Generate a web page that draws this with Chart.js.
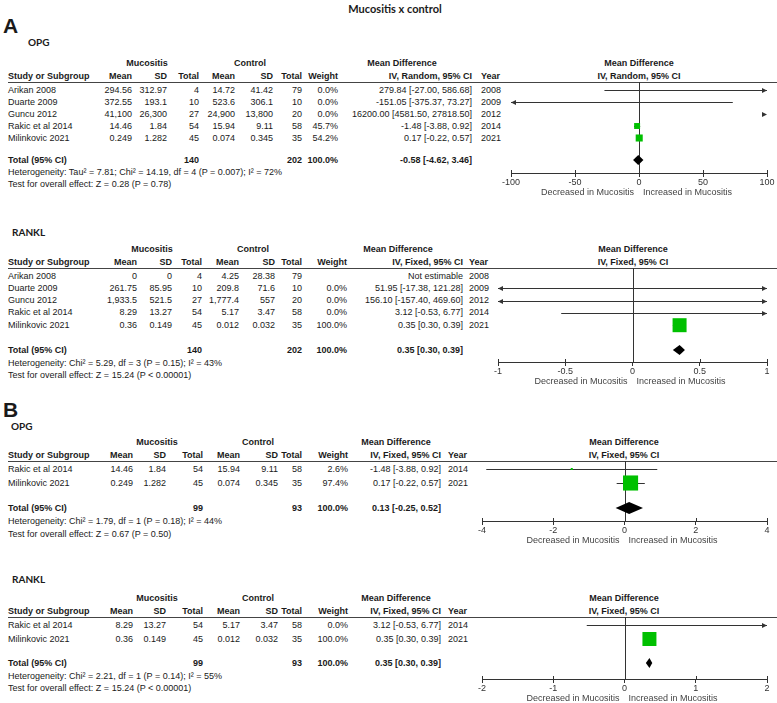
<!DOCTYPE html>
<html><head><meta charset="utf-8">
<script src="https://cdn.jsdelivr.net/npm/chart.js@4.4.0/dist/chart.umd.min.js"></script>
<style>
html,body{margin:0;padding:0;background:#fff;overflow:hidden;width:777px;height:703px;}
#root{position:relative;width:777px;height:703px;overflow:hidden;font-family:"Liberation Sans",Arial,sans-serif;color:#1a1a1a;}
.t{position:absolute;white-space:nowrap;}
.b{font-weight:bold;}
canvas{position:absolute;}
.hl{position:absolute;height:1px;background:#444;}
</style></head><body><div id="root"></div>
<script>
// ---------- Panel A : OPG ----------
const aOpgStudies = ["Arikan 2008","Duarte 2009","Guncu 2012","Rakic et al 2014","Milinkovic 2021"];
const aOpgMucMean = ["294.56","372.55","41,100","14.46","0.249"];
const aOpgMucSD   = ["312.97","193.1","26,300","1.84","1.282"];
const aOpgMucN    = [4,10,27,54,45];
const aOpgCtlMean = ["14.72","523.6","24,900","15.94","0.074"];
const aOpgCtlSD   = ["41.42","306.1","13,800","9.11","0.345"];
const aOpgCtlN    = [79,10,20,58,35];
const aOpgWeight  = [0.0,0.0,0.0,45.7,54.2];
const aOpgMD      = [279.84,-151.05,16200.00,-1.48,0.17];
const aOpgLo      = [-27.00,-375.37,4581.50,-3.88,-0.22];
const aOpgHi      = [586.68,73.27,27818.50,0.92,0.57];
const aOpgYear    = [2008,2009,2012,2014,2021];
const aOpgTotal   = [-0.58,-4.62,3.46];
const aOpgTotalN  = [140,202];
const aOpgHet     = "Heterogeneity: Tau\u00b2 = 7.81; Chi\u00b2 = 14.19, df = 4 (P = 0.007); I\u00b2 = 72%";
const aOpgTest    = "Test for overall effect: Z = 0.28 (P = 0.78)";
const aOpgTicks   = [-100,-50,0,50,100];

// ---------- Panel A : RANKL ----------
const aRanklStudies = ["Arikan 2008","Duarte 2009","Guncu 2012","Rakic et al 2014","Milinkovic 2021"];
const aRanklMucMean = ["0","261.75","1,933.5","8.29","0.36"];
const aRanklMucSD   = ["0","85.95","521.5","13.27","0.149"];
const aRanklMucN    = [4,10,27,54,45];
const aRanklCtlMean = ["4.25","209.8","1,777.4","5.17","0.012"];
const aRanklCtlSD   = ["28.38","71.6","557","3.47","0.032"];
const aRanklCtlN    = [79,10,20,58,35];
const aRanklWeight  = [null,0.0,0.0,0.0,100.0];
const aRanklMD      = [null,51.95,156.10,3.12,0.35];
const aRanklLo      = [null,-17.38,-157.40,-0.53,0.30];
const aRanklHi      = [null,121.28,469.60,6.77,0.39];
const aRanklYear    = [2008,2009,2012,2014,2021];
const aRanklTotal   = [0.35,0.30,0.39];
const aRanklTotalN  = [140,202];
const aRanklHet     = "Heterogeneity: Chi\u00b2 = 5.29, df = 3 (P = 0.15); I\u00b2 = 43%";
const aRanklTest    = "Test for overall effect: Z = 15.24 (P < 0.00001)";
const aRanklTicks   = [-1,-0.5,0,0.5,1];

// ---------- Panel B : OPG ----------
const bOpgStudies = ["Rakic et al 2014","Milinkovic 2021"];
const bOpgMucMean = ["14.46","0.249"];
const bOpgMucSD   = ["1.84","1.282"];
const bOpgMucN    = [54,45];
const bOpgCtlMean = ["15.94","0.074"];
const bOpgCtlSD   = ["9.11","0.345"];
const bOpgCtlN    = [58,35];
const bOpgWeight  = [2.6,97.4];
const bOpgMD      = [-1.48,0.17];
const bOpgLo      = [-3.88,-0.22];
const bOpgHi      = [0.92,0.57];
const bOpgYear    = [2014,2021];
const bOpgTotal   = [0.13,-0.25,0.52];
const bOpgTotalN  = [99,93];
const bOpgHet     = "Heterogeneity: Chi\u00b2 = 1.79, df = 1 (P = 0.18); I\u00b2 = 44%";
const bOpgTest    = "Test for overall effect: Z = 0.67 (P = 0.50)";
const bOpgTicks   = [-4,-2,0,2,4];

// ---------- Panel B : RANKL ----------
const bRanklStudies = ["Rakic et al 2014","Milinkovic 2021"];
const bRanklMucMean = ["8.29","0.36"];
const bRanklMucSD   = ["13.27","0.149"];
const bRanklMucN    = [54,45];
const bRanklCtlMean = ["5.17","0.012"];
const bRanklCtlSD   = ["3.47","0.032"];
const bRanklCtlN    = [58,35];
const bRanklWeight  = [0.0,100.0];
const bRanklMD      = [3.12,0.35];
const bRanklLo      = [-0.53,0.30];
const bRanklHi      = [6.77,0.39];
const bRanklYear    = [2014,2021];
const bRanklTotal   = [0.35,0.30,0.39];
const bRanklTotalN  = [99,93];
const bRanklHet     = "Heterogeneity: Chi\u00b2 = 2.21, df = 1 (P = 0.14); I\u00b2 = 55%";
const bRanklTest    = "Test for overall effect: Z = 15.24 (P < 0.00001)";
const bRanklTicks   = [-2,-1,0,1,2];

// ---------- helpers ----------
const root = document.getElementById('root');
const FONT = '"Liberation Sans", Arial, sans-serif';
function txt(x, y, s, opt) {
  opt = opt || {};
  const d = document.createElement('div');
  d.className = 't' + (opt.bold ? ' b' : '');
  d.textContent = s;
  const size = opt.size || 9;
  const lh = Math.round(size * 1.25);
  d.style.fontSize = size + 'px';
  d.style.lineHeight = lh + 'px';
  if (opt.font) d.style.fontFamily = opt.font;
  if (opt.color) d.style.color = opt.color;
  d.style.top = (y - lh / 2) + 'px';
  const align = opt.align || 'left';
  if (align === 'left') d.style.left = x + 'px';
  else if (align === 'right') { d.style.left = (x - 400) + 'px'; d.style.width = '400px'; d.style.textAlign = 'right'; }
  else { d.style.left = (x - 300) + 'px'; d.style.width = '600px'; d.style.textAlign = 'center'; }
  root.appendChild(d);
}
function hline(x1, x2, y) {
  const d = document.createElement('div');
  d.className = 'hl';
  d.style.left = x1 + 'px'; d.style.width = (x2 - x1) + 'px'; d.style.top = y + 'px';
  root.appendChild(d);
}
const f2 = v => v.toFixed(2);
const ciText = (m, l, h) => m == null ? 'Not estimable' : f2(m) + ' [' + f2(l) + ', ' + f2(h) + ']';

function makeForestPlugin(P, totalRow, L) {
  return {
    id: 'forest',
    beforeDatasetsDraw(chart) {
      const { ctx, chartArea: a, scales: { x, y } } = chart;
      const x0 = Math.round(x.getPixelForValue(0)) + 0.5;
      const XL = x.getPixelForValue(x.min), XR = x.getPixelForValue(x.max);
      ctx.save();
      ctx.strokeStyle = '#333'; ctx.fillStyle = '#333'; ctx.lineWidth = 1;
      ctx.beginPath(); ctx.moveTo(x0, a.top); ctx.lineTo(x0, a.bottom); ctx.stroke();
      const arrow = (px, py, dir) => {
        ctx.beginPath();
        ctx.moveTo(px, py);
        ctx.lineTo(px - dir * 5, py - 2.5);
        ctx.lineTo(px - dir * 5, py + 2.5);
        ctx.closePath(); ctx.fill();
      };
      P.lo.forEach((lo, i) => {
        if (lo == null) return;
        const hi = P.hi[i];
        const py = Math.round(y.getPixelForValue(i)) + 0.5;
        if (lo > x.max) { arrow(XR, py, 1); return; }
        if (hi < x.min) { arrow(XL, py, -1); return; }
        const pl = lo < x.min ? XL : x.getPixelForValue(lo);
        const pr = hi > x.max ? XR : x.getPixelForValue(hi);
        ctx.beginPath(); ctx.moveTo(pl, py); ctx.lineTo(pr, py); ctx.stroke();
        if (lo < x.min) arrow(XL, py, -1);
        if (hi > x.max) arrow(XR, py, 1);
      });
      ctx.restore();
    },
    afterDatasetsDraw(chart) {
      const { ctx, scales: { x, y } } = chart;
      const [m, l, h] = P.total;
      const py = y.getPixelForValue(totalRow);
      const hh = L.diamondH / 2;
      ctx.save();
      ctx.fillStyle = '#000';
      ctx.beginPath();
      ctx.moveTo(x.getPixelForValue(l), py);
      ctx.lineTo(x.getPixelForValue(m), py - hh);
      ctx.lineTo(x.getPixelForValue(h), py);
      ctx.lineTo(x.getPixelForValue(m), py + hh);
      ctx.closePath(); ctx.fill();
      ctx.restore();
    },
    afterDraw(chart) {
      const { ctx, chartArea: a, scales: { x } } = chart;
      ctx.save();
      ctx.strokeStyle = '#333'; ctx.lineWidth = 1;
      x.ticks.forEach(t => {
        const px = Math.round(x.getPixelForValue(t.value)) + 0.5;
        ctx.beginPath(); ctx.moveTo(px, a.bottom - 3); ctx.lineTo(px, a.bottom); ctx.stroke();
      });
      const x0 = x.getPixelForValue(0);
      ctx.font = '9px ' + FONT;
      ctx.fillStyle = '#444';
      ctx.textBaseline = 'middle';
      ctx.textAlign = 'right';
      ctx.fillText('Decreased in Mucositis', x0 - 5, a.bottom + 20);
      ctx.textAlign = 'left';
      ctx.fillText('Increased in Mucositis', x0 + 4, a.bottom + 20);
      ctx.restore();
    }
  };
}

function buildPanel(P, L) {
  const C = L.cols;
  const h1 = L.lineY - 19, h2 = L.lineY - 6;
  txt(L.labelX, L.labelY, P.name, { bold: true, size: 10, font: 'Lato, "Liberation Sans", sans-serif' });
  txt(L.mucC, h1, 'Mucositis', { bold: true, align: 'center' });
  txt(L.ctlC, h1, 'Control', { bold: true, align: 'center' });
  txt(L.mdC, h1, 'Mean Difference', { bold: true, align: 'center' });
  txt(L.zeroPx, h1, 'Mean Difference', { bold: true, align: 'center' });
  txt(8, h2, 'Study or Subgroup', { bold: true });
  ['Mean', 'SD', 'Total', 'Mean', 'SD', 'Total', 'Weight', P.method].forEach((s, k) =>
    txt(C[k], h2, s, { bold: true, align: 'right' }));
  txt(L.yearX, h2, 'Year', { bold: true });
  txt(L.zeroPx, h2, P.method, { bold: true, align: 'center' });
  hline(8, 777, L.lineY);
  P.studies.forEach((s, i) => {
    const y = L.firstRowY + i * L.pitch;
    txt(8, y, s);
    const vals = [P.mucMean[i], P.mucSD[i], String(P.mucN[i]), P.ctlMean[i], P.ctlSD[i], String(P.ctlN[i]),
      P.weight[i] == null ? '' : P.weight[i].toFixed(1) + '%', ciText(P.md[i], P.lo[i], P.hi[i])];
    vals.forEach((v, k) => txt(C[k], y, v, { align: 'right' }));
    txt(L.yearX, y, String(P.year[i]));
  });
  txt(8, L.totalY, 'Total (95% CI)', { bold: true });
  txt(C[2], L.totalY, String(P.totalN[0]), { bold: true, align: 'right' });
  txt(C[5], L.totalY, String(P.totalN[1]), { bold: true, align: 'right' });
  txt(C[6], L.totalY, '100.0%', { bold: true, align: 'right' });
  txt(C[7], L.totalY, ciText(P.total[0], P.total[1], P.total[2]), { bold: true, align: 'right' });
  txt(8, L.hetY, P.het);
  txt(8, L.testY, P.test);

  const cvLeft = 440, cvRight = 800;
  const cw = cvRight - cvLeft, ch = L.axisY - L.lineY + 30;
  const cv = document.createElement('canvas');
  cv.width = cw; cv.height = ch;
  cv.style.left = cvLeft + 'px'; cv.style.top = L.lineY + 'px';
  cv.style.width = cw + 'px'; cv.style.height = ch + 'px';
  root.appendChild(cv);
  const xMin = P.ticks[0], xMax = P.ticks[P.ticks.length - 1];
  const totalRow = (L.totalY - L.firstRowY) / L.pitch;
  const sq = [], sqR = [];
  P.md.forEach((m, i) => {
    if (m == null || !(P.weight[i] > 0) || m < xMin || m > xMax) return;
    sq.push({ x: m, y: i });
    const side = Math.max(2, P.weight[i] * L.sqScale);
    sqR.push(side / Math.SQRT2);
  });
  new Chart(cv, {
    type: 'scatter',
    data: { datasets: [{ data: sq, pointStyle: 'rect', pointRadius: sqR, pointBackgroundColor: '#00c000', pointBorderWidth: 0, borderWidth: 0, clip: false }] },
    options: {
      responsive: false, animation: false, events: [],
      layout: { autoPadding: false, padding: { left: L.xMinPx - cvLeft, right: cvRight - L.xMaxPx, top: 0, bottom: 0 } },
      plugins: { legend: { display: false }, tooltip: { enabled: false } },
      scales: {
        x: {
          type: 'linear', min: xMin, max: xMax,
          afterBuildTicks: s => { s.ticks = P.ticks.map(v => ({ value: v })); },
          afterFit: s => { s.height = 30; },
          border: { display: true, color: '#333', width: 1 },
          grid: { drawOnChartArea: false, drawTicks: true, tickLength: 4, color: '#333' },
          ticks: { font: { family: FONT, size: 9 }, color: '#333', padding: 0, maxRotation: 0, autoSkip: false, callback: v => String(v) }
        },
        y: {
          type: 'linear', display: false, reverse: true,
          min: (L.lineY - L.firstRowY) / L.pitch,
          max: (L.axisY - L.firstRowY) / L.pitch
        }
      }
    },
    plugins: [makeForestPlugin(P, totalRow, L)]
  });
}

// ---------- figure ----------
txt(395, 9, 'Mucositis x control', { bold: true, size: 11, font: 'Lato, "Liberation Sans", sans-serif', align: 'center' });
txt(3, 26, 'A', { bold: true, size: 21, font: '"Liberation Sans", Arial, sans-serif' });
txt(3, 410, 'B', { bold: true, size: 21, font: '"Liberation Sans", Arial, sans-serif' });

buildPanel({
  name: 'OPG', method: 'IV, Random, 95% CI',
  studies: aOpgStudies, mucMean: aOpgMucMean, mucSD: aOpgMucSD, mucN: aOpgMucN,
  ctlMean: aOpgCtlMean, ctlSD: aOpgCtlSD, ctlN: aOpgCtlN, weight: aOpgWeight,
  md: aOpgMD, lo: aOpgLo, hi: aOpgHi, year: aOpgYear, total: aOpgTotal, totalN: aOpgTotalN,
  het: aOpgHet, test: aOpgTest, ticks: aOpgTicks
}, { labelX: 28, labelY: 42, lineY: 82, firstRowY: 90, pitch: 12, totalY: 160, hetY: 172, testY: 184, axisY: 173,
     xMinPx: 511, xMaxPx: 767, zeroPx: 639, cols: [132, 167, 199, 235, 273, 302, 338, 472], yearX: 481,
     mucC: 147, ctlC: 250, mdC: 402, sqScale: 0.13, diamondH: 10 });

buildPanel({
  name: 'RANKL', method: 'IV, Fixed, 95% CI',
  studies: aRanklStudies, mucMean: aRanklMucMean, mucSD: aRanklMucSD, mucN: aRanklMucN,
  ctlMean: aRanklCtlMean, ctlSD: aRanklCtlSD, ctlN: aRanklCtlN, weight: aRanklWeight,
  md: aRanklMD, lo: aRanklLo, hi: aRanklHi, year: aRanklYear, total: aRanklTotal, totalN: aRanklTotalN,
  het: aRanklHet, test: aRanklTest, ticks: aRanklTicks
}, { labelX: 12, labelY: 232, lineY: 268, firstRowY: 276, pitch: 12.3, totalY: 350, hetY: 363, testY: 375, axisY: 362,
     xMinPx: 498, xMaxPx: 767, zeroPx: 633, cols: [137, 172, 202, 239, 275, 302, 347, 463], yearX: 469,
     mucC: 152, ctlC: 253, mdC: 398, sqScale: 0.14, diamondH: 10 });

buildPanel({
  name: 'OPG', method: 'IV, Fixed, 95% CI',
  studies: bOpgStudies, mucMean: bOpgMucMean, mucSD: bOpgMucSD, mucN: bOpgMucN,
  ctlMean: bOpgCtlMean, ctlSD: bOpgCtlSD, ctlN: bOpgCtlN, weight: bOpgWeight,
  md: bOpgMD, lo: bOpgLo, hi: bOpgHi, year: bOpgYear, total: bOpgTotal, totalN: bOpgTotalN,
  het: bOpgHet, test: bOpgTest, ticks: bOpgTicks
}, { labelX: 11, labelY: 426, lineY: 461, firstRowY: 469, pitch: 14, totalY: 508, hetY: 521, testY: 534, axisY: 521,
     xMinPx: 482, xMaxPx: 767, zeroPx: 624, cols: [133, 166, 203, 240, 278, 302, 348, 441], yearX: 448,
     mucC: 157, ctlC: 258, mdC: 396, sqScale: 0.155, diamondH: 12 });

buildPanel({
  name: 'RANKL', method: 'IV, Fixed, 95% CI',
  studies: bRanklStudies, mucMean: bRanklMucMean, mucSD: bRanklMucSD, mucN: bRanklMucN,
  ctlMean: bRanklCtlMean, ctlSD: bRanklCtlSD, ctlN: bRanklCtlN, weight: bRanklWeight,
  md: bRanklMD, lo: bRanklLo, hi: bRanklHi, year: bRanklYear, total: bRanklTotal, totalN: bRanklTotalN,
  het: bRanklHet, test: bRanklTest, ticks: bRanklTicks
}, { labelX: 12, labelY: 579, lineY: 617, firstRowY: 625, pitch: 14, totalY: 663, hetY: 676, testY: 688, axisY: 679,
     xMinPx: 482, xMaxPx: 767, zeroPx: 624, cols: [133, 166, 203, 240, 278, 302, 348, 441], yearX: 448,
     mucC: 157, ctlC: 258, mdC: 396, sqScale: 0.14, diamondH: 10 });
</script></body></html>
